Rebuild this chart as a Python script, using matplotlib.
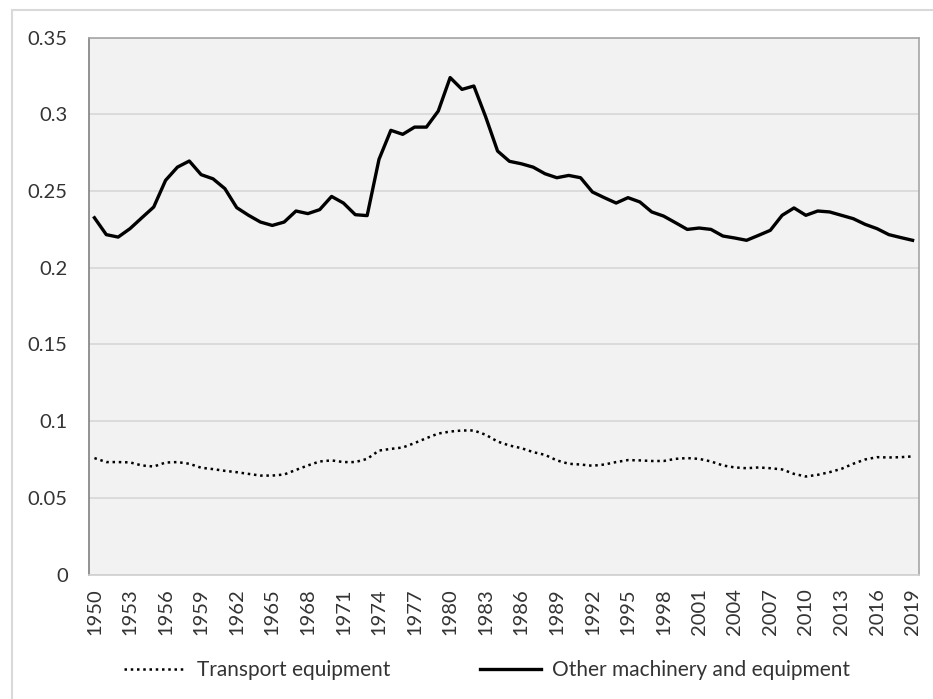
import matplotlib
matplotlib.use("Agg")
import matplotlib.pyplot as plt
from matplotlib.patches import Rectangle
import numpy as np

years = list(range(1950, 2020))

other_machinery = [
    0.2326, 0.2216, 0.2200, 0.2255, 0.2326, 0.2396, 0.2570, 0.2656, 0.2696, 0.2607,
    0.2580, 0.2516, 0.2392, 0.2342, 0.2298, 0.2276, 0.2298, 0.2370, 0.2353, 0.2379,
    0.2465, 0.2422, 0.2346, 0.2340, 0.2707, 0.2896, 0.2870, 0.2917, 0.2917, 0.3022,
    0.3240, 0.3163, 0.3185, 0.2983, 0.2761, 0.2694, 0.2678, 0.2656, 0.2613, 0.2587,
    0.2602, 0.2587, 0.2494, 0.2457, 0.2422, 0.2457, 0.2429, 0.2364, 0.2337, 0.2294,
    0.2250, 0.2259, 0.2250, 0.2207, 0.2194, 0.2179, 0.2211, 0.2244, 0.2342, 0.2390,
    0.2342, 0.2370, 0.2364, 0.2342, 0.2320, 0.2283, 0.2255, 0.2216, 0.2197, 0.2179,
]

transport = [
    0.0759, 0.0733, 0.0733, 0.0731, 0.0711, 0.0704, 0.0730, 0.0733, 0.0722, 0.0696,
    0.0687, 0.0676, 0.0667, 0.0656, 0.0645, 0.0645, 0.0652, 0.0682, 0.0711, 0.0737,
    0.0744, 0.0733, 0.0733, 0.0754, 0.0808, 0.0819, 0.0828, 0.0857, 0.0889, 0.0919,
    0.0932, 0.0939, 0.0939, 0.0911, 0.0867, 0.0841, 0.0824, 0.0798, 0.0780, 0.0744,
    0.0722, 0.0717, 0.0709, 0.0717, 0.0733, 0.0746, 0.0744, 0.0740, 0.0740, 0.0754,
    0.0759, 0.0754, 0.0737, 0.0711, 0.0698, 0.0693, 0.0698, 0.0693, 0.0685, 0.0656,
    0.0639, 0.0650, 0.0667, 0.0689, 0.0722, 0.0750, 0.0765, 0.0763, 0.0765, 0.0770,
]

y_ticks = [0, 0.05, 0.1, 0.15, 0.2, 0.25, 0.3, 0.35]
y_tick_labels = ["0", "0.05", "0.1", "0.15", "0.2", "0.25", "0.3", "0.35"]

plt.rcParams['font.family'] = ['Lato', 'DejaVu Sans']
text_color = '#333333'
fs = 14.5

fig = plt.figure(figsize=(9.33, 6.99), dpi=100)
fig.patch.set_facecolor('white')

# outer chart border (left and top visible)
fig.patches.append(Rectangle((11.5 / 933, -0.1), 1.2, 1 - 10.5 / 699 + 0.1,
                             transform=fig.transFigure, fill=False,
                             edgecolor='#d9d9d9', linewidth=1.5, zorder=0))

ax = fig.add_axes([88.5 / 933, 1 - 574.5 / 699, (918.5 - 88.5) / 933, (574.5 - 37.7) / 699])
ax.set_facecolor('#f2f2f2')

x = np.arange(len(years))
ax.plot(x, transport, color='black', linewidth=1.8, linestyle=(0, (1, 1.5)),
        dash_capstyle='butt', label='Transport equipment', zorder=3)
ax.plot(x, other_machinery, color='black', linewidth=2.4, solid_joinstyle='round',
        label='Other machinery and equipment', zorder=3)

ax.set_xlim(-0.5, len(years) - 0.5)
ax.set_ylim(0, 0.35)
ax.set_yticks(y_ticks)
ax.set_yticklabels(y_tick_labels)
ax.yaxis.grid(True, color='#d9d9d9', linewidth=1.3)
ax.set_axisbelow(True)

tick_idx = list(range(0, len(years), 3))
ax.set_xticks(tick_idx)
ax.set_xticklabels([str(years[i]) for i in tick_idx], rotation=90)

ax.tick_params(axis='both', length=0, labelsize=fs, colors=text_color)
ax.tick_params(axis='y', pad=15)
ax.tick_params(axis='x', pad=10)

for s in ['top', 'right', 'bottom']:
    ax.spines[s].set_color('#a6a6a6')
    ax.spines[s].set_linewidth(1.2)
ax.spines['left'].set_color('#808080')
ax.spines['left'].set_linewidth(1.2)
ax.spines['bottom'].set_color('#d0d0d0')

leg = fig.legend(loc='center', bbox_to_anchor=(0.522, 1 - 670 / 699), ncol=2,
                 frameon=False, fontsize=15, handlelength=2.95, columnspacing=4.3,
                 handletextpad=0.55)
for t in leg.get_texts():
    t.set_color(text_color)

fig.savefig('out.png', dpi=100, facecolor='white')
